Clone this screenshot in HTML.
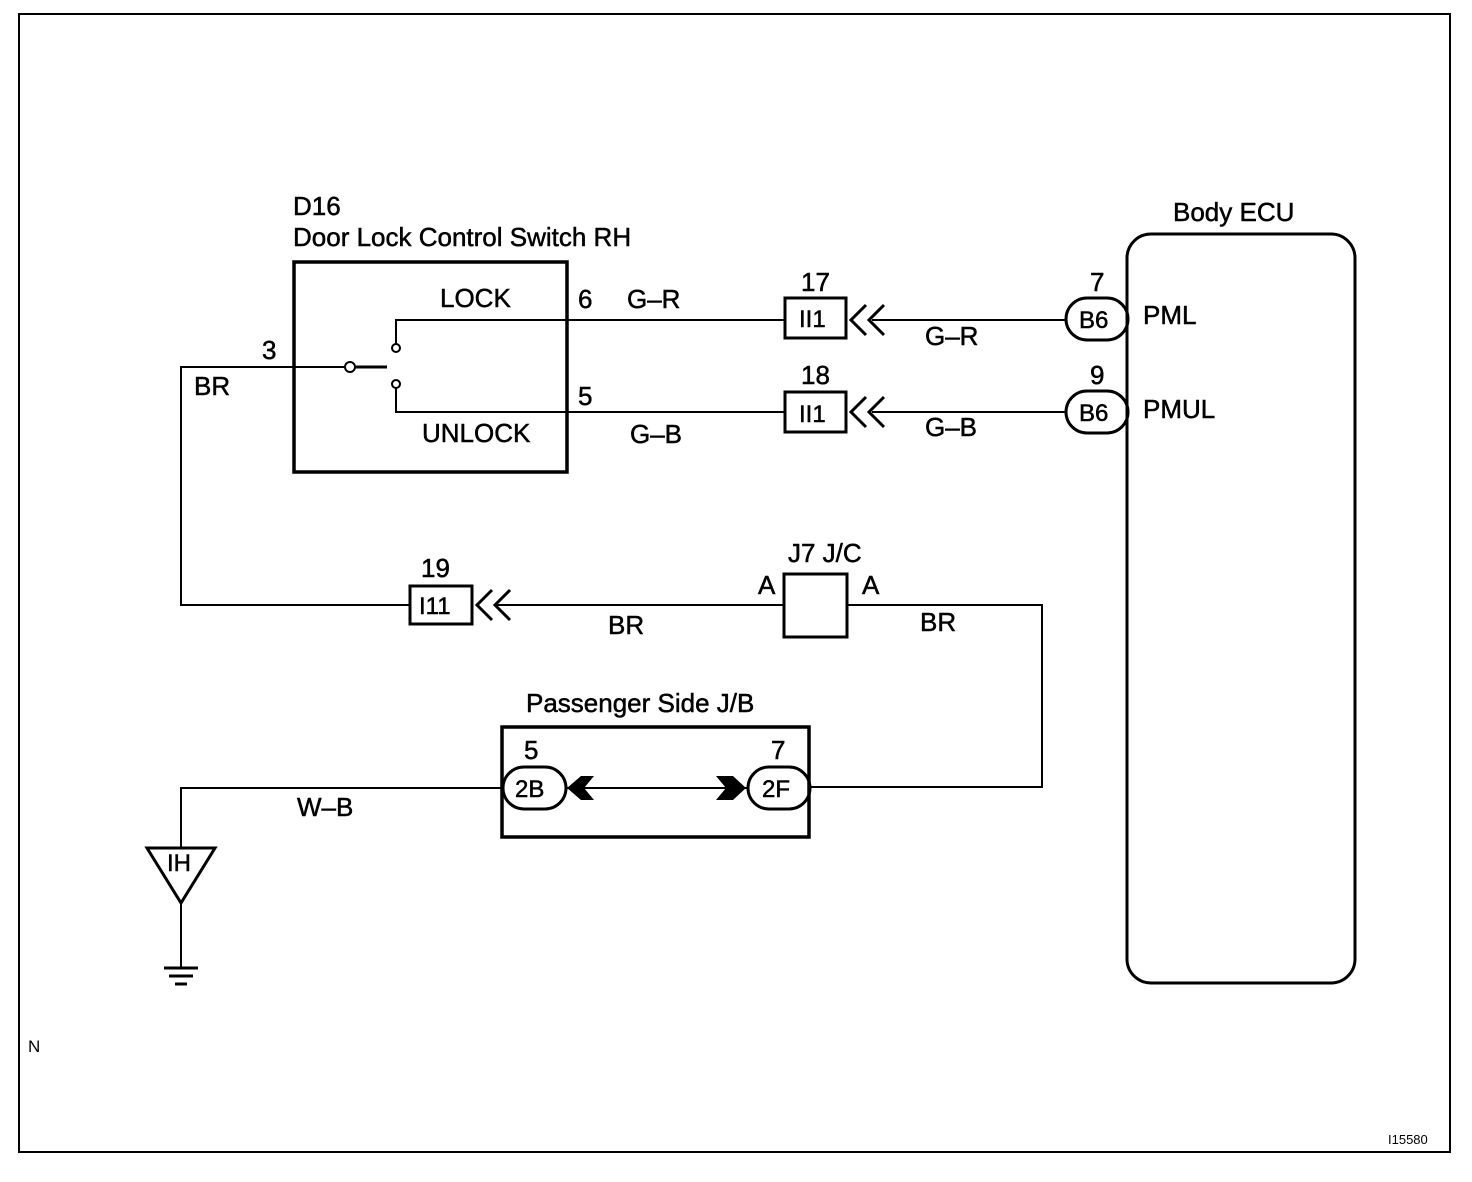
<!DOCTYPE html>
<html><head><style>body{margin:0;background:#fff}svg{display:block}text{font-family:"Liberation Sans",sans-serif;fill:#000;stroke:#000;stroke-width:0.5}</style></head><body>
<svg width="1472" height="1182" viewBox="0 0 1472 1182" xmlns="http://www.w3.org/2000/svg">
<rect width="1472" height="1182" fill="#fff"/>
<rect x="19" y="14" width="1431" height="1138" fill="none" stroke="#000" stroke-width="2"/>
<g stroke="#000" fill="none">
<rect x="294" y="262" width="273" height="210" stroke-width="3.5"/>
<rect x="1127" y="234" width="228" height="749" rx="24" stroke-width="3"/>
<rect x="785" y="298" width="61" height="40" stroke-width="3"/>
<rect x="785" y="392" width="61" height="40" stroke-width="3"/>
<rect x="410" y="586" width="62" height="38" stroke-width="3"/>
<rect x="784" y="574" width="63" height="63" stroke-width="3"/>
<rect x="502" y="727" width="307" height="110" stroke-width="3.5"/>
<rect x="1066" y="298" width="62" height="42" rx="21" stroke-width="3"/>
<rect x="1066" y="391" width="62" height="42" rx="21" stroke-width="3"/>
<rect x="503" y="767" width="63" height="42" rx="21" stroke-width="3"/>
<rect x="748" y="767" width="62" height="42" rx="21" stroke-width="3"/>
<g stroke-width="2">
<polyline points="396,344 396,320 785,320"/>
<polyline points="396,388 396,412 785,412"/>
<circle cx="396" cy="348" r="4"/><circle cx="396" cy="384" r="4"/>
<circle cx="350" cy="367" r="5"/>
<polyline points="345,367 181,367 181,605 410,605"/>
<line x1="355" y1="367" x2="387" y2="367" stroke-width="3"/>
<line x1="872" y1="320" x2="1066" y2="320"/>
<line x1="872" y1="412" x2="1066" y2="412"/>
<line x1="496" y1="605" x2="784" y2="605"/>
<polyline points="847,605 1042,605 1042,787 810,787"/>
<line x1="566" y1="788" x2="748" y2="788"/>
<polyline points="502,788 181,788 181,848"/>
<line x1="181" y1="903" x2="181" y2="968"/>
</g>
<g stroke-width="3">
<polyline points="866,305 851,320 866,335"/><polyline points="884,305 869,320 884,335"/>
<polyline points="866,397 851,412 866,427"/><polyline points="884,397 869,412 884,427"/>
<polyline points="492,590 477,605 492,620"/><polyline points="510,590 495,605 510,620"/>
<polygon points="147,848 215,848 181,903"/>
<line x1="164" y1="968" x2="198" y2="968"/><line x1="169" y1="976" x2="193" y2="976"/><line x1="175" y1="984" x2="187" y2="984"/>
</g>
</g>
<polygon points="567,788 581,776 594,776 584,788 594,800 581,800" fill="#000"/>
<polygon points="746,788 733,776 716,776 726,788 716,800 733,800" fill="#000"/>
<g font-size="26">
<text x="293" y="215">D16</text>
<text x="293" y="246">Door Lock Control Switch RH</text>
<text x="1173" y="221">Body ECU</text>
<text x="440" y="307">LOCK</text>
<text x="422" y="442">UNLOCK</text>
<text x="578" y="308">6</text><text x="578" y="405">5</text>
<text x="627" y="308">G–R</text><text x="630" y="443">G–B</text>
<text x="801" y="291">17</text><text x="801" y="384">18</text>
<text x="1090" y="291">7</text><text x="1090" y="384">9</text>
<text x="1143" y="324">PML</text><text x="1143" y="418">PMUL</text>
<text x="925" y="345">G–R</text><text x="925" y="436">G–B</text>
<text x="262" y="359">3</text><text x="194" y="395">BR</text>
<text x="421" y="577">19</text>
<text x="608" y="634">BR</text><text x="920" y="631">BR</text>
<text x="788" y="562">J7 J/C</text>
<text x="758" y="594">A</text><text x="862" y="594">A</text>
<text x="526" y="712">Passenger Side J/B</text>
<text x="524" y="759">5</text><text x="771" y="759">7</text>
<text x="297" y="816">W–B</text>
</g>
<g font-size="24">
<text x="799" y="327">II1</text><text x="799" y="422">II1</text>
<text x="1079" y="328">B6</text><text x="1079" y="421">B6</text>
<text x="419" y="614">I11</text>
<text x="515" y="797">2B</text><text x="762" y="797">2F</text>
<text x="167" y="871">IH</text>
</g>
<text x="28" y="1052" font-size="17" style="stroke-width:0">N</text>
<text x="1388" y="1144" font-size="13" style="stroke-width:0">I15580</text>
</svg>
</body></html>
